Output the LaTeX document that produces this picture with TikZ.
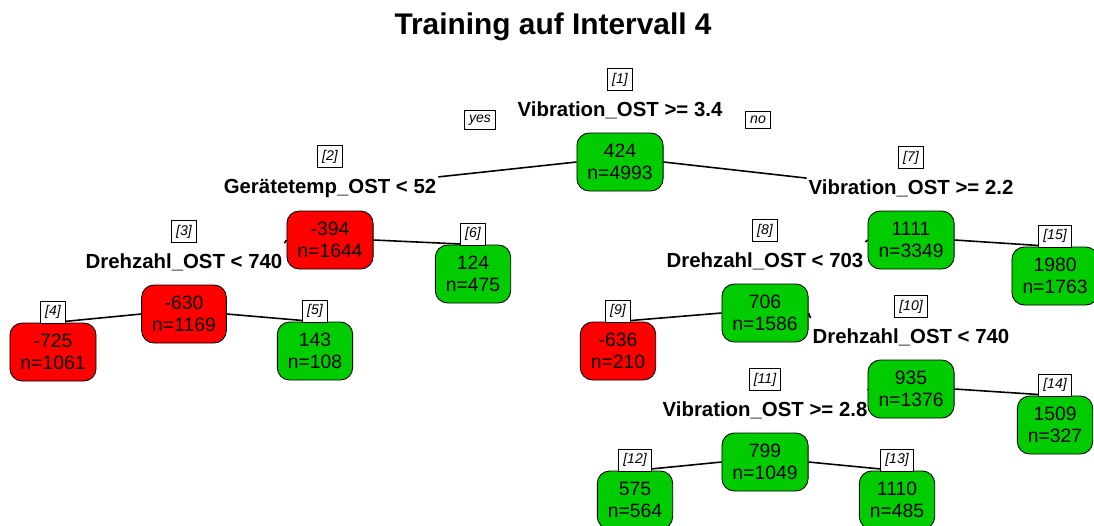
\documentclass[tikz,border=0pt]{standalone}
\usepackage{fontspec}
\setmainfont{Liberation Sans}
\usetikzlibrary{positioning, backgrounds}
\definecolor{nodered}{RGB}{255,0,0}
\definecolor{nodegreen}{RGB}{0,204,0}

\begin{document}
\begin{tikzpicture}[
    x=0.02cm, y=-0.02cm,
    treebox/.style={draw, line width=0.5pt, rounded corners=7pt, minimum height=1.16cm, inner xsep=6pt, align=center, font=\fontsize{11}{12.5}\selectfont},
    redbox/.style={treebox, fill=nodered},
    greenbox/.style={treebox, fill=nodegreen},
    splitlabel/.style={inner sep=1pt, font=\bfseries\fontsize{11.6}{13}\selectfont},
    nodeid/.style={draw, fill=white, line width=0.5pt, inner sep=2.5pt, font=\itshape\fontsize{8}{9}\selectfont},
    branch/.style={line width=0.9pt}
]
    \useasboundingbox (0,0) rectangle (1094,525);
    \node[font=\bfseries\fontsize{17}{20}\selectfont] (title) at (553,27) {Training auf Intervall 4};

    % inner nodes
    \node[greenbox] (n1) at (620,162) {424\\n=4993};
    \node[redbox] (n2) at (330,240) {-394\\n=1644};
    \node[redbox] (n3) at (184,314) {-630\\n=1169};
    \node[greenbox] (n7) at (911,240) {1111\\n=3349};
    \node[greenbox] (n8) at (765,313) {706\\n=1586};
    \node[greenbox] (n10) at (911,389) {935\\n=1376};
    \node[greenbox] (n11) at (765,462) {799\\n=1049};

    % leaves
    \node[redbox] (n4) at (53,352) {-725\\n=1061};
    \node[greenbox] (n5) at (315,351) {143\\n=108};
    \node[greenbox] (n6) at (473,274) {124\\n=475};
    \node[redbox] (n9) at (618,351) {-636\\n=210};
    \node[greenbox] (n12) at (635,500) {575\\n=564};
    \node[greenbox] (n13) at (897,500) {1110\\n=485};
    \node[greenbox] (n14) at (1055,425) {1509\\n=327};
    \node[greenbox] (n15) at (1055,276) {1980\\n=1763};

    % split rules
    \node[splitlabel, above=0.22cm of n1] (r1) {Vibration\_OST >= 3.4};
    \node[splitlabel, above=0.22cm of n2] (r2) {Gerätetemp\_OST < 52};
    \node[splitlabel, above=0.22cm of n3] (r3) {Drehzahl\_OST < 740};
    \node[splitlabel, above=0.22cm of n7] (r7) {Vibration\_OST >= 2.2};
    \node[splitlabel, above=0.22cm of n8] (r8) {Drehzahl\_OST < 703};
    \node[splitlabel, above=0.22cm of n10] (r10) {Drehzahl\_OST < 740};
    \node[splitlabel, above=0.22cm of n11] (r11) {Vibration\_OST >= 2.8};

    % node numbers
    \node[nodeid, above=0.18cm of r1] (k1) {[1]};
    \node[nodeid, above=0.18cm of r2] (k2) {[2]};
    \node[nodeid, above=0.18cm of r3] (k3) {[3]};
    \node[nodeid, above=0.18cm of r7] (k7) {[7]};
    \node[nodeid, above=0.18cm of r8] (k8) {[8]};
    \node[nodeid, above=0.18cm of r10] (k10) {[10]};
    \node[nodeid, above=0.18cm of r11] (k11) {[11]};
    \node[nodeid, above=-0.5pt of n4] (k4) {[4]};
    \node[nodeid, above=-0.5pt of n5] (k5) {[5]};
    \node[nodeid, above=-0.5pt of n6] (k6) {[6]};
    \node[nodeid, above=-0.5pt of n9] (k9) {[9]};
    \node[nodeid, above=-0.5pt of n12] (k12) {[12]};
    \node[nodeid, above=-0.5pt of n13] (k13) {[13]};
    \node[nodeid, above=-0.5pt of n14] (k14) {[14]};
    \node[nodeid, above=-0.5pt of n15] (k15) {[15]};

    \node[nodeid] (yes) at (480,120) {yes};
    \node[nodeid] (no) at (758,120) {no};

    \begin{scope}[on background layer]
        \draw[branch] (n1.west) -- (r2.north east);
        \draw[branch] (n1.east) -- (r7.north west);
        \draw[branch] (n2.west) -- (k3.south -| r3.east);
        \draw[branch] (n2.east) -- (n6.north);
        \draw[branch] (n3.west) -- (n4.north);
        \draw[branch] (n3.east) -- (n5.north);
        \draw[branch] (n7.west) -- (k8.south -| r8.east);
        \draw[branch] (n7.east) -- (n15.north);
        \draw[branch] (n8.west) -- (n9.north);
        \draw[branch] (n8.east) -- (k10.south -| r10.west);
        \draw[branch] (n10.west) -- (k11.south -| r11.east);
        \draw[branch] (n10.east) -- (n14.north);
        \draw[branch] (n11.west) -- (n12.north);
        \draw[branch] (n11.east) -- (n13.north);
    \end{scope}
\end{tikzpicture}
\end{document}
